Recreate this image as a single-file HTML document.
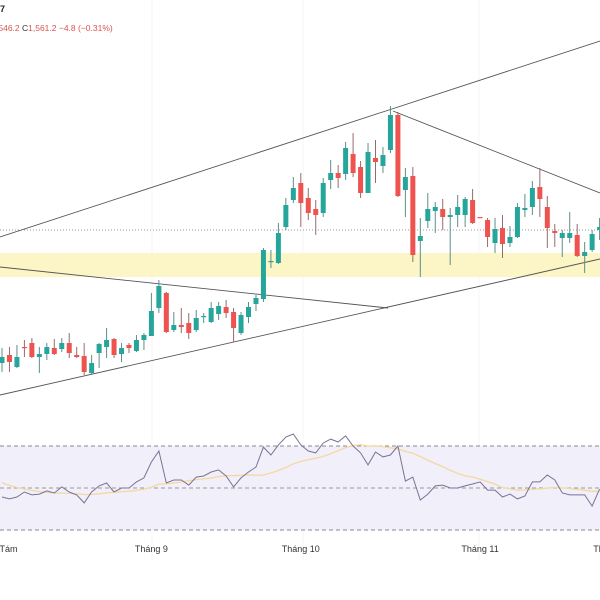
<!DOCTYPE html>
<html><head><meta charset="utf-8"><style>
html,body{margin:0;padding:0;background:#fff;width:600px;height:600px;overflow:hidden}
svg{display:block;font-family:"Liberation Sans","DejaVu Sans",sans-serif}
</style></head><body>
<svg id="chart" width="600" height="600" viewBox="0 0 600 600">
<rect x="0" y="0" width="600" height="600" fill="#fff"/>
<g id="grid"></g>
<rect x="0" y="253" width="600" height="24" fill="#fcf5c6"/>
<line x1="0" y1="230" x2="600" y2="230" stroke="#9a9a9a" stroke-dasharray="1,2" stroke-width="1"/>
<g id="trend"></g>
<g id="candles"></g>
<rect x="0" y="446" width="600" height="84" fill="#f1eff9"/>
<line x1="0" y1="446" x2="600" y2="446" stroke="#8a8a8a" stroke-dasharray="4,3"/>
<line x1="0" y1="488" x2="600" y2="488" stroke="#9a9a9a" stroke-dasharray="4,3"/>
<line x1="0" y1="530" x2="600" y2="530" stroke="#8a8a8a" stroke-dasharray="4,3"/>
<g id="rsi"></g>
<g id="xlabels"></g>
<text x="-3" y="12" font-size="9" font-weight="bold" fill="#222">-7</text>
<text x="-4" y="31" font-size="8.5" fill="#d9534f">,546.2 <tspan fill="#333">C</tspan>1,561.2  −4.8 (−0.31%)</text>
</svg>
<script>
const opens  =[1428,1436,1424,1444,1448,1434,1437,1443,1442,1448,1436,1435,1418,1438,1444,1452,1437,1446,1440,1451,1455,1483,1498,1461,1466,1468,1461,1474,1469,1477,1484,1479,1458,1474,1487,1492,1529,1528,1564,1591,1608,1593,1582,1578,1611,1618,1617,1637,1624,1598,1633,1625,1641,1676,1601,1615,1550,1570,1580,1582,1574,1576,1576,1591,1574,1571,1548,1563,1548,1554,1581,1584,1604,1584,1560,1553,1553,1556,1535,1541,1561];
const highs  =[1443,1444,1446,1451,1453,1444,1448,1452,1453,1458,1444,1448,1436,1448,1463,1453,1448,1448,1456,1458,1498,1511,1499,1479,1483,1478,1481,1478,1489,1489,1491,1483,1479,1489,1496,1543,1541,1568,1593,1614,1618,1603,1591,1613,1631,1626,1649,1658,1630,1648,1651,1644,1685,1679,1623,1624,1573,1598,1589,1592,1583,1596,1594,1602,1574,1573,1573,1576,1565,1588,1597,1610,1623,1595,1567,1561,1579,1567,1549,1561,1573];
const lows   =[1419,1419,1423,1434,1433,1418,1431,1436,1439,1433,1433,1416,1416,1423,1433,1433,1429,1438,1439,1441,1455,1478,1458,1459,1458,1452,1459,1468,1468,1471,1473,1449,1456,1468,1480,1489,1523,1527,1561,1588,1564,1571,1556,1574,1602,1603,1611,1614,1593,1598,1608,1618,1638,1594,1574,1529,1514,1563,1558,1561,1526,1564,1564,1567,1573,1544,1538,1533,1544,1553,1574,1576,1574,1543,1544,1534,1548,1534,1518,1539,1551];
const closes =[1434,1429,1434,1443,1434,1437,1444,1437,1448,1438,1434,1419,1428,1447,1451,1436,1443,1443,1451,1456,1480,1505,1459,1466,1464,1458,1473,1475,1483,1485,1478,1463,1476,1484,1493,1541,1530,1558,1586,1603,1588,1578,1576,1608,1618,1613,1643,1618,1598,1639,1629,1636,1676,1595,1614,1536,1555,1582,1584,1574,1576,1584,1592,1568,1573,1554,1562,1547,1554,1584,1583,1603,1592,1563,1558,1558,1558,1535,1539,1557,1564];
const rsiValues=[45.7,44.8,45.7,48.1,46.7,47.1,48.6,47.6,50.5,48.1,46.7,42.9,48.1,51.0,52.4,48.1,50,50,52.9,54.8,62.4,67.6,52.4,53.8,53.8,51.4,55.2,55.7,57.6,58.6,55.7,50.5,54.8,57.6,60,69.5,65.7,70.5,74.3,75.7,70.5,67.6,66.7,71.4,73.3,71.9,74.8,70,66.7,61,67.1,64.8,65.7,70,53.3,55.2,44.3,47.1,51,51.4,50,50,51,51.9,52.9,49,49,45.7,47.1,44.8,46.2,52.9,52.9,56.2,53.8,47.6,46.7,46.7,46.7,41.4,49.5];
const priorRsi=[62,60,58,56,55,54,52,51,50,49,48,47,47];
const monthLabels=["Tháng Tám","Tháng 9","Tháng 10","Tháng 11","Tháng 12"];
const monthIndex=[-1,20,40,64,81.7];
const maPeriod=14;

const NS="http://www.w3.org/2000/svg";
const X0=2, STEP=7.47;
function xScale(i){return X0+STEP*i;}
function yScale(p){return 1791-p;}
function rsiY(v){return 488-(v-50)*2.1;}
function mk(tag,attrs,parent){const e=document.createElementNS(NS,tag);for(const k in attrs)e.setAttribute(k,attrs[k]);parent.appendChild(e);return e;}

const grid=document.getElementById('grid');
[152,303,479].forEach(function(x){
  const l=mk('line',{x1:x,y1:0,x2:x,y2:560,stroke:'#f4f4f4','stroke-width':1},grid);
  
  
});

const tr=document.getElementById('trend');
const lines=[[0,237,600,41],[0,395,600,259],[0,267,388,308],[393,111,600,193]];
const tnames=['upper-channel-line','lower-channel-line','descending-trendline','resistance-trendline'];
lines.forEach(function(L,k){
  const l=mk('line',{x1:L[0],y1:L[1],x2:L[2],y2:L[3],stroke:'#555','stroke-width':0.9},tr);
  
  
});

const cg=document.getElementById('candles');
for(let i=0;i<opens.length;i++){
  const x=xScale(i), up=closes[i]>=opens[i], col=up?'#26a69a':'#ef5350';
  const g=mk('g',{},cg);
  
  
  mk('line',{x1:x,y1:yScale(highs[i]),x2:x,y2:yScale(lows[i]),stroke:up?'#5b8f8a':'#9a6a6a','stroke-width':1},g);
  const top=yScale(Math.max(opens[i],closes[i])), bot=yScale(Math.min(opens[i],closes[i]));
  mk('rect',{x:x-2.5,y:top,width:5,height:Math.max(1.2,bot-top),fill:col},g);
}

const rg=document.getElementById('rsi');
let d='';
rsiValues.forEach(function(v,i){d+=(i?'L':'M')+xScale(i).toFixed(1)+','+rsiY(v).toFixed(1);});
const all=priorRsi.concat(rsiValues), off=priorRsi.length;
let md='';
for(let i=0;i<rsiValues.length;i++){
  const e=i+off, s=Math.max(0,e-maPeriod+1);let sum=0;for(let j=s;j<=e;j++)sum+=all[j];
  md+=(i?'L':'M')+xScale(i).toFixed(1)+','+rsiY(sum/(e-s+1)).toFixed(1);
}
const ma=mk('path',{d:md,fill:'none',stroke:'#f3d9a0','stroke-width':1.3},rg);


const rl=mk('path',{d:d,fill:'none',stroke:'#7a7396','stroke-width':1},rg);



const xl=document.getElementById('xlabels');
monthLabels.forEach(function(t,k){
  const x=xScale(monthIndex[k]);
  const e=mk('text',{x:x,y:552,'font-size':9,fill:'#333','text-anchor':'middle'},xl);
  e.textContent=t;
  
  
});
</script>
</body></html>
